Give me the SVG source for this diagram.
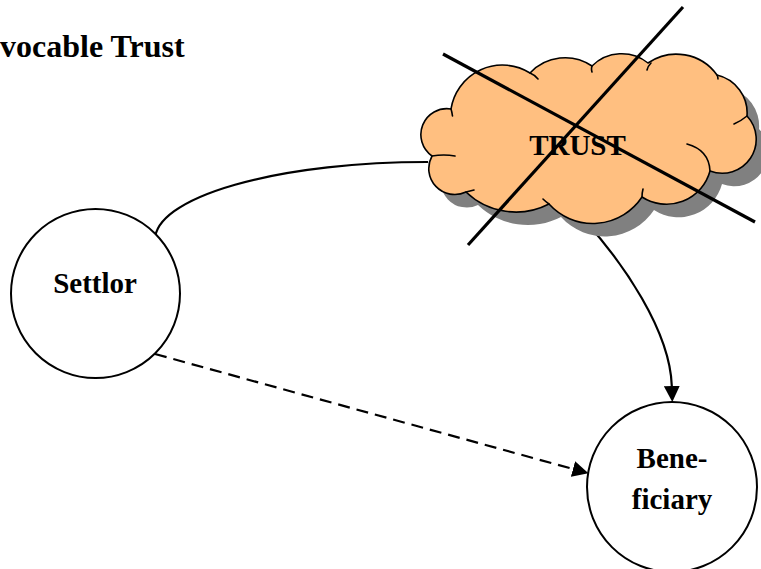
<svg xmlns="http://www.w3.org/2000/svg" width="761" height="569" viewBox="0 0 761 569">
<style>
  .lbl { font-family: "Liberation Serif", "Times New Roman", serif; font-weight: bold; fill: #000; }
  .node { fill: #fff; stroke: #000; stroke-width: 2; }
  .conn { fill: none; stroke: #000; stroke-width: 2.2; }
  .cloud { fill: #FFBF80; stroke: #000; stroke-width: 1.6; stroke-linejoin: round; }
  .tick { fill: none; stroke: #000; stroke-width: 1.6; stroke-linecap: round; }
  .cross { stroke: #000; stroke-width: 3.2; }
</style>
<defs>
  <marker id="arrow" viewBox="0 0 16 16" refX="0" refY="8" markerWidth="16" markerHeight="16" markerUnits="userSpaceOnUse" orient="auto">
    <path d="M0,0 L16,8 L0,16 Z" fill="#000"/>
  </marker>
  <path id="cloudShape" d="M451,109 A52,52 0 0 1 530,73 A48,48 0 0 1 592,66 A42,42 0 0 1 648,63 A50,50 0 0 1 717,75 A39,39 0 0 1 747,116 A34,34 0 0 1 710,171 A45,45 0 0 1 642,197 A59,59 0 0 1 549,204 A72,72 0 0 1 466,192 A26,26 0 0 1 432,156 A26,26 0 0 1 451,109 Z"/>
</defs>
<rect width="761" height="569" fill="#fff"/>

<g id="title">
  <text class="lbl" font-size="32" x="0" y="57">vocable Trust</text>
</g>

<g id="connectors">
  <path class="conn" d="M155,240 A272,78 0 0 1 428,162"/>
  <path class="conn" d="M586,222 C622,262 670,330 671.8,386" marker-end="url(#arrow)"/>
  <path class="conn" d="M155,354 L573,469" stroke-dasharray="12,7" marker-end="url(#arrow)"/>
</g>

<g id="trust">
  <use href="#cloudShape" transform="translate(12,13)" fill="#808080"/>
  <use href="#cloudShape" class="cloud"/>
  <path class="tick" d="M451,109 Q452,112 452.5,116 M530,73 Q535,75 538,79 M592,66 Q591,69 592,72 M651,63 Q648,66 647,70 M717,75 Q718,77 718,79 M747,116 Q741,121 734,124 M710,171 Q709,150 687,144 M642,197 Q642,193 643,189 M549,204 Q546,202 543,199 M466,192 Q470,191 474,190 M432,156 Q444,154 455,156"/>
  <text class="lbl" font-size="29" x="577.5" y="155" text-anchor="middle">TRUST</text>
  <line class="cross" x1="443" y1="54" x2="755" y2="222"/>
  <line class="cross" x1="683" y1="7" x2="468" y2="245"/>
</g>

<g id="settlor">
  <circle class="node" cx="95.5" cy="293.5" r="84.5"/>
  <text class="lbl" font-size="29" x="95" y="293" text-anchor="middle">Settlor</text>
</g>

<g id="beneficiary">
  <circle class="node" cx="672" cy="487" r="85"/>
  <text class="lbl" font-size="29" x="672" y="468" text-anchor="middle">Bene-</text>
  <text class="lbl" font-size="29" x="672" y="509" text-anchor="middle">ficiary</text>
</g>
</svg>
